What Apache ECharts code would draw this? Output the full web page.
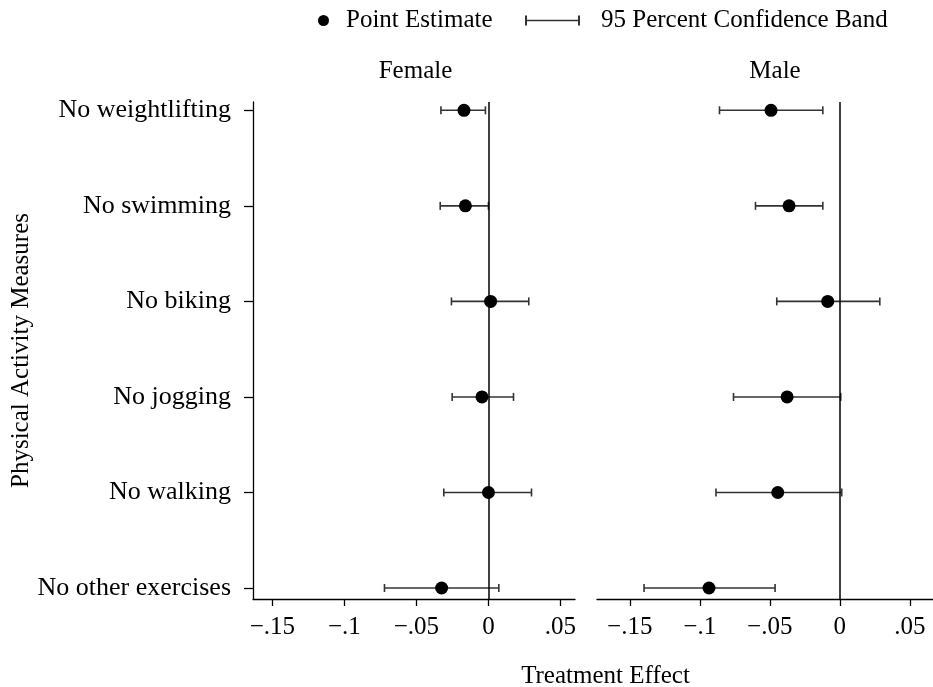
<!DOCTYPE html>
<html>
<head>
<meta charset="utf-8">
<script src="https://cdn.jsdelivr.net/npm/echarts@6/dist/echarts.min.js"></script>
<style>
  html, body { margin: 0; padding: 0; background: #fff; }
  #chart { width: 933px; height: 687px; }
</style>
</head>
<body>
<div id="chart"></div>
<script>
    var categories = ['No weightlifting', 'No swimming', 'No biking', 'No jogging', 'No walking', 'No other exercises'];
    var rows = [0, 1, 2, 3, 4, 5];

    // female panel
    var femaleEst = [-0.017, -0.016, 0.0015, -0.0045, 0.0, -0.0325];
    var femaleLo = [-0.033, -0.0335, -0.0257, -0.0252, -0.031, -0.0722];
    var femaleHi = [-0.0021, 0.0, 0.028, 0.0174, 0.0299, 0.0072];

    // male panel
    var maleEst = [-0.0491, -0.0362, -0.0086, -0.0376, -0.0443, -0.0934];
    var maleLo = [-0.0859, -0.0602, -0.045, -0.0759, -0.0884, -0.1398];
    var maleHi = [-0.0121, -0.0121, 0.0286, 0.0007, 0.0014, -0.0462];

    var tickValues = [-0.15, -0.1, -0.05, 0, 0.05];
    var tickLabels = ['\u2212.15', '\u2212.1', '\u2212.05', '0', '.05'];

    var FONT = "'Liberation Serif', 'DejaVu Serif', serif";
    var FS = 25;

    function pts(est) {
        return est.map(function (v, i) { return [v, rows[i]]; });
    }
    function bands(lo, hi) {
        return lo.map(function (v, i) { return [v, hi[i], rows[i]]; });
    }

    function renderCI(params, api) {
        var a = api.coord([api.value(0), api.value(2)]);
        var b = api.coord([api.value(1), api.value(2)]);
        var h = 4;
        var st = { stroke: '#333', lineWidth: 1.6 };
        return {
            type: 'group',
            children: [
                { type: 'line', shape: { x1: a[0], y1: a[1], x2: b[0], y2: b[1] }, style: st },
                { type: 'line', shape: { x1: a[0], y1: a[1] - h, x2: a[0], y2: a[1] + h }, style: st },
                { type: 'line', shape: { x1: b[0], y1: b[1] - h, x2: b[0], y2: b[1] + h }, style: st }
            ]
        };
    }

    function xAxisFor(idx, min, max) {
        return {
            type: 'value',
            gridIndex: idx,
            min: min,
            max: max,
            splitLine: { show: false },
            axisLine: { show: true, onZero: false, lineStyle: { color: '#000', width: 1.3 } },
            axisTick: { show: true, length: 7, customValues: tickValues, lineStyle: { color: '#000', width: 1.3 } },
            axisLabel: {
                customValues: tickValues,
                margin: 16,
                fontSize: FS,
                fontFamily: FONT,
                color: '#000',
                formatter: function (v) {
                    var k = tickValues.findIndex(function (t) { return Math.abs(t - v) < 1e-9; });
                    return k < 0 ? '' : tickLabels[k];
                }
            }
        };
    }

    function zeroLine() {
        return {
            silent: true,
            symbol: 'none',
            label: { show: false },
            lineStyle: { color: '#000', type: 'solid', width: 1.5 },
            data: [{ xAxis: 0 }]
        };
    }

    var ciIcon = 'path://M0,0h2v10h-2z M0,4.2h55v1.6h-55z M53,0h2v10h-2z';

    var option = {
        animation: false,
        textStyle: { fontFamily: FONT },
        legend: [
            {
                data: [{ name: 'Point Estimate', icon: 'circle' }],
                left: 318, top: 8, padding: 0,
                itemWidth: 11, itemHeight: 11,
                selectedMode: false,
                textStyle: { fontSize: FS, fontFamily: FONT, color: '#000', padding: [0, 0, 0, 12] }
            },
            {
                data: [{ name: '95 Percent Confidence Band', icon: ciIcon }],
                left: 525, top: 8, padding: 0,
                itemWidth: 55, itemHeight: 10,
                selectedMode: false,
                textStyle: { fontSize: FS, fontFamily: FONT, color: '#000', padding: [0, 0, 0, 16] }
            }
        ],
        grid: [
            { left: 253, top: 102, width: 322, height: 497 },
            { left: 597, top: 102, width: 336, height: 497 }
        ],
        xAxis: [
            xAxisFor(0, -0.1635, 0.0601),
            xAxisFor(1, -0.1734, 0.0666)
        ],
        yAxis: [
            {
                type: 'value',
                gridIndex: 0,
                inverse: true,
                min: -0.087,
                max: 5.115,
                name: 'Physical Activity Measures',
                nameLocation: 'middle',
                nameRotate: 90,
                nameGap: 215,
                nameTextStyle: { fontSize: FS, fontFamily: FONT, color: '#000' },
                splitLine: { show: false },
                axisLine: { show: true, onZero: false, lineStyle: { color: '#000', width: 1.3 } },
                axisTick: { show: true, length: 9, customValues: rows, lineStyle: { color: '#000', width: 1.3 } },
                axisLabel: {
                    customValues: rows,
                    margin: 22,
                    fontSize: 26,
                    fontFamily: FONT,
                    color: '#000',
                    formatter: function (v) { return categories[Math.round(v)]; }
                }
            },
            {
                type: 'value',
                gridIndex: 1,
                inverse: true,
                min: -0.087,
                max: 5.115,
                splitLine: { show: false },
                axisLine: { show: false },
                axisTick: { show: false },
                axisLabel: { show: false }
            }
        ],
        graphic: [
            { type: 'text', x: 415.5, y: 71, style: { text: 'Female', align: 'center', verticalAlign: 'middle', fontSize: FS, fontFamily: FONT, fill: '#000' } },
            { type: 'text', x: 775, y: 71, style: { text: 'Male', align: 'center', verticalAlign: 'middle', fontSize: FS, fontFamily: FONT, fill: '#000' } },
            { type: 'text', x: 605.5, y: 676, style: { text: 'Treatment Effect', align: 'center', verticalAlign: 'middle', fontSize: FS, fontFamily: FONT, fill: '#000' } }
        ],
        series: [
            {
                name: '95 Percent Confidence Band',
                type: 'custom',
                xAxisIndex: 0, yAxisIndex: 0,
                renderItem: renderCI,
                encode: { x: [0, 1], y: 2 },
                itemStyle: { color: '#333' },
                data: bands(femaleLo, femaleHi),
                markLine: zeroLine(),
                z: 2
            },
            {
                name: '95 Percent Confidence Band',
                type: 'custom',
                xAxisIndex: 1, yAxisIndex: 1,
                renderItem: renderCI,
                encode: { x: [0, 1], y: 2 },
                itemStyle: { color: '#333' },
                data: bands(maleLo, maleHi),
                markLine: zeroLine(),
                z: 2
            },
            {
                name: 'Point Estimate',
                type: 'scatter',
                xAxisIndex: 0, yAxisIndex: 0,
                symbolSize: 13,
                itemStyle: { color: '#000', opacity: 1 },
                data: pts(femaleEst),
                z: 5
            },
            {
                name: 'Point Estimate',
                type: 'scatter',
                xAxisIndex: 1, yAxisIndex: 1,
                symbolSize: 13,
                itemStyle: { color: '#000', opacity: 1 },
                data: pts(maleEst),
                z: 5
            }
        ]
    };

    var myChart = echarts.init(document.getElementById('chart'));
    myChart.setOption(option);
</script>
</body>
</html>
